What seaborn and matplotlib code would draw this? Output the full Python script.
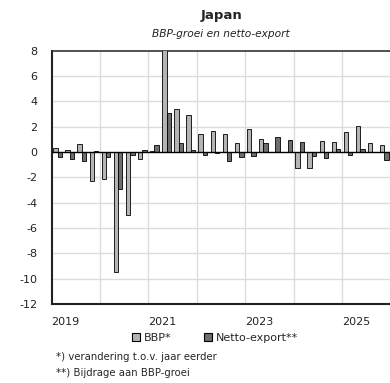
import matplotlib
matplotlib.use("Agg")
import matplotlib.pyplot as plt
import seaborn as sns
import pandas as pd
import numpy as np
from matplotlib.patches import Patch

quarters = [f"{y}K{q}" for y in range(2019, 2026) for q in range(1, 5)]
bbp = [0.35, 0.15, 0.65, -2.3, -2.1, -9.5, -5.0, -0.58,
       0.1, 9.0, 3.4, 2.9, 1.45, 1.68, 1.45, 0.72,
       1.82, 1.05, 0.03, 0.03, -1.26, -1.26, 0.84, 0.79,
       1.62, 2.02, 0.71, 0.55]
netto = [-0.37, -0.58, -0.73, 0.05, -0.37, -2.9, -0.25, 0.15,
         0.53, 3.1, 0.73, 0.15, -0.25, -0.06, -0.72, -0.43,
         -0.3, 0.69, 1.18, 0.95, 0.79, -0.34, -0.5, 0.24,
         -0.22, 0.24, 0.02, -0.6]
series_names = ["BBP*", "Netto-export**"]
year_labels = ["2019", "2021", "2023", "2025"]
yticks = list(range(-12, 9, 2))
title = "Japan"
subtitle = "BBP-groei en netto-export"
notes = ["*) verandering t.o.v. jaar eerder", "**) Bijdrage aan BBP-groei"]

df = pd.DataFrame({
    "kwartaal": quarters * 2,
    "waarde": bbp + netto,
    "reeks": [series_names[0]] * len(quarters) + [series_names[1]] * len(quarters),
})

colors = {"BBP*": "#b4b4b4", "Netto-export**": "#6e6e6e"}

sns.set_style("white")
plt.rcParams["font.family"] = ["DejaVu Sans"]

W, H = 390, 383
fig = plt.figure(figsize=(W / 100, H / 100), dpi=100)
ax = fig.add_axes([51.5 / W, 1 - 304 / H, 339 / W, (304 - 50.7) / H])

sns.barplot(data=df, x="kwartaal", y="waarde", hue="reeks", order=quarters,
            hue_order=series_names, palette=colors, width=0.72, dodge=True,
            edgecolor="black", linewidth=0.6, ax=ax, legend=False, zorder=3)

ax.set_ylim(-12, 8)
ax.set_xlim(-0.5, len(quarters) - 0.5)
ax.set_yticks(yticks)
ax.set_yticklabels([str(v) for v in yticks], fontsize=8, color="#222222")

# grid
for v in yticks:
    if v not in (-12, 0, 8):
        ax.axhline(v, color="#dcdcdc", lw=1, zorder=0)
for k in range(4, len(quarters), 4):
    ax.axvline(k - 0.5, color="#dcdcdc", lw=1, zorder=0)
ax.axhline(0, color="black", lw=1, zorder=4)

year_pos = [-0.5 + 8 * i for i in range(len(year_labels))]
ax.set_xticks(year_pos)
ax.set_xticklabels(year_labels, fontsize=8, ha="left", color="#222222")
ax.tick_params(axis="y", length=0, pad=10)
ax.tick_params(axis="x", length=0, pad=9.5)
ax.set_xlabel("")
ax.set_ylabel("")

for s in ["left", "bottom"]:
    ax.spines[s].set_color("#222222")
    ax.spines[s].set_linewidth(1.5)
ax.spines["top"].set_color("#333333")
ax.spines["top"].set_linewidth(1.2)
ax.spines["right"].set_visible(False)

fig.text(222 / W, 1 - 16 / H, title, ha="center", va="center",
         fontsize=9.5, fontweight="bold")
fig.text(221 / W, 1 - 34 / H, subtitle, ha="center", va="center",
         fontsize=7.7, style="italic", color="#222222")

handles = [Patch(facecolor=colors[n], edgecolor="black", linewidth=0.8) for n in series_names]
fig.legend(handles, series_names, loc="center", bbox_to_anchor=(215 / W, 1 - 338 / H),
           ncol=2, frameon=False, fontsize=8, handlelength=0.7, handleheight=0.7,
           handletextpad=0.3, columnspacing=3.0)

fig.text(56 / W, 1 - 357 / H, notes[0], ha="left", va="center", fontsize=7.3)
fig.text(56 / W, 1 - 373 / H, notes[1], ha="left", va="center", fontsize=7.3)

fig.savefig("out.png", dpi=100)
